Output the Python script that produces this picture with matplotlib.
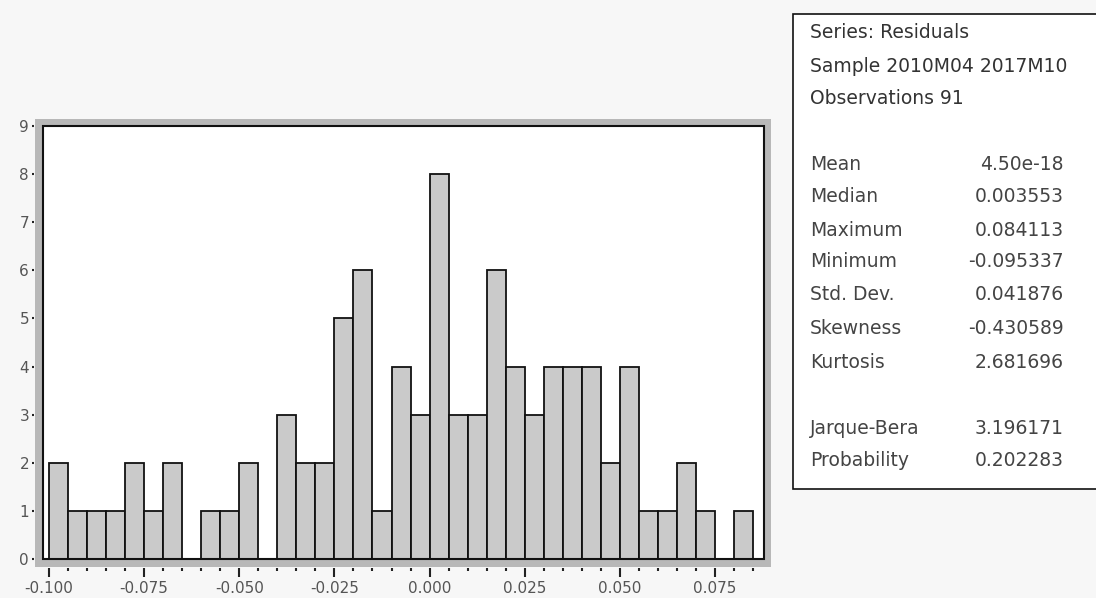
import matplotlib.pyplot as plt
from matplotlib.patches import Rectangle


# histogram of residuals, bin width 0.005
bin_lefts = [-0.100, -0.095, -0.090, -0.085, -0.080, -0.075, -0.070, -0.065,
             -0.060, -0.055, -0.050, -0.045, -0.040, -0.035, -0.030, -0.025,
             -0.020, -0.015, -0.010, -0.005, 0.000, 0.005, 0.010, 0.015,
             0.020, 0.025, 0.030, 0.035, 0.040, 0.045, 0.050, 0.055,
             0.060, 0.065, 0.070, 0.075, 0.080]
counts = [2, 1, 1, 1, 2, 1, 2, 0,
          1, 1, 2, 0, 3, 2, 2, 5,
          6, 1, 4, 3, 8, 3, 3, 6,
          4, 3, 4, 4, 4, 2, 4, 1,
          1, 2, 1, 0, 1]
bin_width = 0.005

x_ticks = [-0.100, -0.075, -0.050, -0.025, 0.000, 0.025, 0.050, 0.075]
x_labels = ["-0.100", "-0.075", "-0.050", "-0.025", "0.000", "0.025", "0.050", "0.075"]
x_minor = [-0.095, -0.090, -0.085, -0.080, -0.070, -0.065, -0.060, -0.055,
           -0.045, -0.040, -0.035, -0.030, -0.020, -0.015, -0.010, -0.005,
           0.005, 0.010, 0.015, 0.020, 0.030, 0.035, 0.040, 0.045,
           0.055, 0.060, 0.065, 0.070, 0.080, 0.085]
y_ticks = [0, 1, 2, 3, 4, 5, 6, 7, 8, 9]

header_lines = ["Series: Residuals", "Sample 2010M04 2017M10", "Observations 91"]
stat_names = ["Mean", "Median", "Maximum", "Minimum", "Std. Dev.", "Skewness", "Kurtosis"]
stat_values = ["4.50e-18", "0.003553", "0.084113", "-0.095337", "0.041876", "-0.430589", "2.681696"]
test_names = ["Jarque-Bera", "Probability"]
test_values = ["3.196171", "0.202283"]

W, H = 1096, 598
fig = plt.figure(figsize=(W / 100, H / 100), dpi=100)
fig.patch.set_facecolor('#f7f7f7')


def fx(px):
    return px / W


def fy(py):
    return 1 - py / H


# grey band around the plot
fig.add_artist(Rectangle((fx(35), fy(567)), fx(771) - fx(35), fy(119) - fy(567),
                         transform=fig.transFigure, facecolor='#b8b8b8',
                         edgecolor='none', zorder=-1))

ax = fig.add_axes([fx(43), fy(559), fx(764) - fx(43), fy(126) - fy(559)])
ax.bar(bin_lefts, counts, width=bin_width, align='edge',
       color='#cacaca', edgecolor='#111111', linewidth=1.3)
ax.set_xlim(-0.10158, 0.08788)
ax.set_ylim(0, 9)

for s in ax.spines.values():
    s.set_visible(False)
ax.spines['bottom'].set_position(('outward', 6.5))
ax.spines['left'].set_position(('outward', 6.5))
ax.add_patch(Rectangle((0, 0), 1, 1, transform=ax.transAxes, fill=False,
                       edgecolor='#111111', linewidth=1.5, clip_on=False, zorder=5))

ax.set_xticks(x_ticks)
ax.set_xticklabels(x_labels)
ax.set_xticks(x_minor, minor=True)
ax.set_yticks(y_ticks)
ax.tick_params(axis='x', which='major', direction='out', length=6.5, width=1.5,
               pad=3, labelsize=11, labelcolor='#555555', color='#222222')
ax.tick_params(axis='x', which='minor', direction='out', length=2.5, width=1.5,
               color='#222222')
ax.tick_params(axis='y', direction='out', length=1.5, width=1.5, pad=2,
               labelsize=11, labelcolor='#555555', color='#222222')

# statistics box
fig.add_artist(Rectangle((fx(793), fy(489)), 1.0 - fx(793) + 0.01, fy(14) - fy(489),
                         transform=fig.transFigure, facecolor='white',
                         edgecolor='#111111', linewidth=1.2, zorder=1))

fs = 13.5
tx, vx = 810, 1064
rows_y = [32, 66, 99]
for name, y in zip(header_lines, rows_y):
    fig.text(fx(tx), fy(y), name, fontsize=fs, color='#333333', va='center', zorder=2)

stat_y = [164, 197, 230, 262, 295, 328, 362]
for name, val, y in zip(stat_names, stat_values, stat_y):
    fig.text(fx(tx), fy(y), name, fontsize=fs, color='#444444', va='center', zorder=2)
    fig.text(fx(vx), fy(y), val, fontsize=fs, color='#444444', va='center', ha='right', zorder=2)

test_y = [428, 460]
for name, val, y in zip(test_names, test_values, test_y):
    fig.text(fx(tx), fy(y), name, fontsize=fs, color='#444444', va='center', zorder=2)
    fig.text(fx(vx), fy(y), val, fontsize=fs, color='#444444', va='center', ha='right', zorder=2)

fig.savefig('out.png', dpi=100, facecolor=fig.get_facecolor())
